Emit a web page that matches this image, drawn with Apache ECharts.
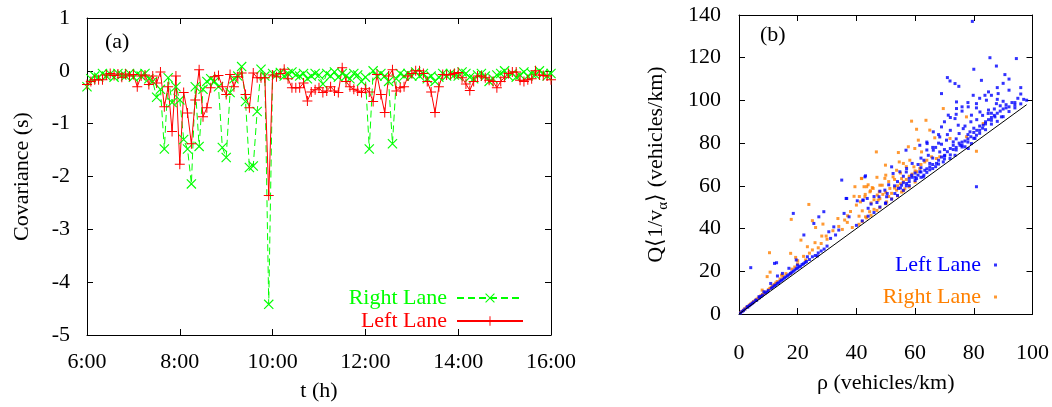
<!DOCTYPE html>
<html><head><meta charset="utf-8">
<script src="https://cdn.jsdelivr.net/npm/echarts@6/dist/echarts.min.js"></script>
<style>html,body{margin:0;padding:0;background:#fff}#c{width:1052px;height:407px}</style>
</head><body><div id="c"></div><script>
// ---- Panel (a): covariance time series, 5-minute samples from 6:00 ----
const startHour = 6;
const stepMinutes = 5;
const rightLaneCov = [
 -0.3,-0.15,-0.1,-0.12,-0.05,-0.1,-0.06,-0.12,-0.05,-0.08,-0.1,-0.05,-0.12,-0.06,-0.1,-0.05,-0.15,-0.2,
 -0.5,-0.35,-1.48,-0.13,-0.6,-0.3,-0.55,-1.3,-1.48,-2.14,-0.3,-1.43,-0.35,
 -0.2,-0.15,-0.2,-0.3,-1.45,-1.64,-0.41,-0.15,-0.1,0.08,-0.58,-1.83,-1.8,-0.77,0.03,-0.1,-4.42,
 -0.05,-0.08,-0.03,-0.1,-0.05,-0.02,-0.08,-0.1,-0.05,-0.15,-0.1,-0.05,-0.08,-0.25,-0.05,-0.1,-0.02,-0.12,-0.05,-0.1,-0.15,-0.05,-0.08,-0.2,-0.12,-1.48,0.0,-0.1,
 -0.05,-0.1,-0.2,-1.38,-0.15,-0.05,-0.1,-0.05,-0.1,-0.02,-0.1,-0.05,-0.15,-0.1,-0.2,-0.12,-0.05,-0.1,-0.05,-0.08,-0.1,-0.02,-0.05,-0.12,-0.15,-0.08,-0.05,-0.1,-0.2,-0.15,-0.08,-0.05,0.0,-0.1,-0.05,-0.12,-0.08,-0.02,-0.1,-0.05,-0.08,0.0,-0.05,-0.1,-0.05
];
const leftLaneCov = [
 -0.26,-0.2,-0.17,-0.17,-0.17,-0.08,-0.05,-0.09,-0.06,-0.12,-0.06,-0.1,-0.07,-0.3,-0.1,-0.08,-0.26,-0.1,-0.23,
 -0.02,-0.68,-0.3,-1.15,-0.1,-1.77,-0.41,-0.8,-1.38,-0.55,0.02,-0.87,
 -0.7,-0.32,-0.11,-0.09,-0.3,-0.45,-0.07,-0.3,-0.11,-0.04,-0.45,-0.7,-0.04,-0.13,-0.13,-0.13,-2.36,
 -0.08,-0.11,-0.05,0.03,-0.15,-0.32,-0.32,-0.32,-0.23,-0.57,-0.4,-0.36,
 -0.32,-0.41,-0.38,-0.3,-0.38,-0.41,0.06,-0.2,-0.3,-0.35,-0.38,-0.41,-0.34,-0.4,-0.58,-0.07,-0.45,-0.79,-0.1,0.02,-0.38,-0.32,-0.3,-0.1,-0.05,0.0,0.0,-0.05,-0.2,-0.4,
 -0.79,-0.3,-0.07,-0.08,-0.07,-0.05,-0.03,-0.13,-0.25,-0.37,-0.2,-0.1,-0.1,-0.13,-0.18,-0.2,-0.32,-0.2,-0.12,-0.05,-0.02,-0.02,-0.18,-0.2,-0.17,-0.15,0.0,-0.08,-0.09,-0.1,-0.17
];

// ---- Panel (b): scatter [rho, Q<1/v>] ----
const leftLanePts = [
 [0.5,0.4],[1,1.1],[1.5,1.6],[2,2.3],[2.8,3.4],[3,3.2],[3.5,3.9],[4,4.4],[4.5,5],[5,5.6],[5.7,6.5],[6,6.4],[6.8,8.1],[7,7.6],[7.5,8.2],[8,8.8],[8.5,10.4],[9,9.8],[9.5,10.3],[10,11],
 [10.8,14.3],[11,12],[11.5,12.6],[12,13.2],[12.5,13.5],[13,14.3],[13.1,17.8],[13.5,14.6],[14,15.3],[14.5,15.8],[14.8,19],[15,16.3],[15.5,16.9],[16,17.4],[16.5,17.9],[17,18.4],[17,21.4],[17.5,19],[18,19.5],[18.5,20],
 [19,20.6],[19.5,25.3],[19.5,21.2],[19.9,22.9],[20,21.5],[20.5,22.1],[21,22.4],[21.5,23.2],[22,23.5],[22.1,37],[22.5,24.1],[23,24.6],[23.3,26.8],[24,25.5],[25,26.8],[26,27.4],[26.7,27.2],[27,28.6],[28,29.5],[29,30.4],[30,31.8],
 [4,21.7],[12.1,23.7],[12.8,24],[18.5,47.1],[35,62.7],[43.1,64.7],[36.5,54.1],[27.2,45.5],[28.9,47.9],[25.5,42.4],[30.6,38.5],[32.3,40.8],[34,39.3],[35.8,47.1],[37.5,45.5],[31.2,35.4],[32.9,37],
 [40.3,53],[42.2,53.3],[43.7,54.1],[49.9,51.8],[50.5,56.4],[47.7,54.9],[36.7,54.1],[42.3,53.3],[49.7,58],[50.3,54.9],[53.1,56.4],[42.9,64.2],
 [79.5,137],[85.5,120],[94.5,119.6],[87.7,116.1],[80,114.6],[90.6,112.1],[82.6,109.4],[71,110.7],[71.9,109.1],[73.6,107.9],[74.9,106.6],[69,103.2],[92,104.8],[79.8,102.4],[83.8,102.4],[86,102.4],[88.3,103.2],
 [98,100.1],[94,97.8],[90,99.6],[87.7,98.5],[84.3,100.1],[80.9,98.5],[78.1,97],[74.1,96.2],[76,97],[71.3,93.1],[73.6,91.5],[74.7,88.4],[76.4,86.8],[78.7,85.3],[80.9,83.7],[83.2,88.4],[86,90.7],[87.2,92.3],[89.4,92.3],
 [84.9,93.9],[82.1,94.6],[79.2,93.1],[68.4,82.9],[70.7,81.4],[73,80.6],[75.3,79],[77,78.3],[78.1,77.5],[79.2,79.8],[80.4,82.2],[66.2,76.7],[64.5,74.3],[68.4,75.9],[70.1,74.3],[71.9,72.8],[73.6,74.3],[69.6,71.2],
 [67.3,70.5],[65,68.9],[63.3,67.3],[61.6,66.6],[62.8,64.2],[60.5,63.4],[58.8,65],[57.1,61.1],[55.4,60.3],[54.3,58.8],[57.1,68.1],[54.8,66.6],[52.5,65.8],[52,68.9],[56.9,76.7],[61.6,79],[64.1,79.8],[66.2,85.3],[69,87.6],
 [74.1,99.3],[80.9,96.5],[80.9,59.6],
 [40,41.5],[42,43.6],[44,45.8],[46,47.5],[48,50.1],[50,52],[52,53.8],[54,55.5],[56,57.9],[58,60.1],[60,62.5],[62,64],[64,66.3],[66,68.1],[68,70.2],[70,72.6],[72,74.5],[74,76.8],[76,78.2],[78,80.5],[80,82.3],[82,84.6],
 [84,86.3],[86,88.9],[88,90.2],[90,92.4],[92,94.8],[94,96.5],[96,98.4],
 [58,63.5],[60,66],[61,70],[63,72],[65,70.5],[66,73],[67,78],[69,79.5],[70,77],[71,84],[72,86],[73,77],[74,82],[75,84.5],[76,80.5],[77,88],[78,84],[79,90],[80,87],[81,91],[82,86],[83,93],[84,89],[85,95.5],[86,94],
 [87,96],[88,100.5],[89,97.5],[91,96.5],[93,99],[95,101],[97,100.5],[59,70.5],[62,68.5],[64,76.8],[68,80],[56,64.5],[57,66.5],[54,62],[53,60],[51,60.5],[48,57.5],[46,55],[45,51.5],[44,49.5],[47,52.2],
 [55,59],[56,61.5],[57,60],[58,62],[59,64],[60,64],[61,65],[62,66.5],[63,65],[64,68],[65,67.5],[66,70],[67,69],[68,72],[69,73.5],[70,74],[71,76],[72,77.5],[73,79],[74,78],[75,80],[76,79],[77,81],[78,82],
 [79,83],[80,85],[81,86],[82,88],[83,87],[84,90],[85,91],[86,92],[87,93],[88,94],[89,95],[90,96],[91,98],[92,97],[94,99],[96,103],
 [62,73],[64,80.5],[66,78],[68,84],[70,90],[72,92],[74,93.5],[76,95],[78,99],[82,101],[85,104],[88,106],[90,108],[92,110],[96,106]
];
const rightLanePts = [
 [0.5,0.6],[1,1.2],[1.5,1.8],[2,2.4],[2.5,3.1],[3,3.5],[3.5,4.2],[4,4.7],[4.5,5.2],[5,5.8],[5.5,6.3],[6,6.9],[6.5,7.4],[7,8],[7.5,8.7],[7.9,11.2],[8,9.1],[8.5,9.6],[9,10.2],[9.6,17.5],[10,11.4],[10.4,28.7],
 [10.5,12],[10.6,19.6],[11,12.6],[11.5,13.1],[12,13.8],[12.5,14.5],[13,15.2],[14,16.4],[14.5,18.2],[15,17.6],[16,18.9],[17.6,19],[17.6,28.4],[17.8,44.3],[18,21],[19.3,26.5],[20,23.5],[21.1,34.6],[22.7,25.3],[23.3,31.5],
 [23.8,51.3],[25,43.7],[25.9,33.4],[26.1,40.5],[28.2,36.5],[28.6,42.1],[29.7,36.5],[33.7,44.7],[35.2,39.6],[36.9,42.9],[38.6,40.5],[39.2,55.1],[41.7,63.5],[42.6,59.6],[45.4,59.2],[44.8,57.7],[47.1,55.7],[48.8,60.3],
 [41.4,52.5],[42,48.3],[40.9,45.8],[43.1,45.5],[44.5,47.9],[46,49],[46.8,75.9],[49.9,69.7],[40.9,42],[42,43.3],[43.5,45],[45,46.2],[47,48.5],[48,49.8],[50,51.6],[52,53.9],[54,55.3],[56,57.6],[58,59.5],[60,61.8],
 [69.6,96.2],[58.8,90.3],[63.7,90.7],[60.5,86.5],[65,86.1],[66.7,82.5],[61.1,81.4],[57.7,78.3],[59.9,77.5],[54.3,75.6],[54.6,71.2],[56,70.5],[58.2,72],[59.6,68.9],[61.6,68.1],[63.3,71.2],[65.6,73.6],[67.3,72.8],
 [53.7,67.3],[52.5,64.2],[49.7,63.5],[48,60.3],[45.7,58.8],[43.5,59.6],[41.8,63.4],[39.5,59.6],[42.9,54.9],[44.6,57.2],[47.8,57.2],[51.4,58.8],[53.7,58],[55.4,57.1],[56.5,58.6],[50.3,52.5],[47.4,53.3],
 [83.2,89.2],[77.5,92.3],[80.9,76.2],[71.9,82.2],[77.5,83],[68.4,73.6],[62.2,75.9],[55.4,63.4],[60.5,66.6],
 [45,52],[46,53.5],[48,54],[49,56],[50,57],[51,55],[52,56.5],[53,59],[54,60],[55,61],[56,62],[57,63],[58,64.5],[59,65.5],[60,67],[62,70],[64,72],[57,69],[55,66],[53,63],
 [51,62],[50,65],[47,64],[44,60.5],[43,56],[41,55],[40,51],[38,48],[37,46],[36,44],[34,41],[32,39],[30,35],[28,33],[27,31],[25,30],[24,28.5],[22,27],[20,25],[19,22]
];
const diagonalLine = [[0,0],[98,98]];

const F = 'Liberation Serif';
const GREEN = '#00ff00', RED = '#ff0000', BLUE = '#0000ff', ORANGE = '#ff8000';
const CROSS = 'path://M0,0.8L0.8,0L10,9.2L9.2,10ZM9.2,0L10,0.8L0.8,10L0,9.2Z';
const PLUS = 'path://M4.5,0H5.5V10H4.5ZM0,4.5H10V5.5H0Z';

const toPairs = vals => vals.map((v, i) => [startHour + i * stepMinutes / 60, v]);

const lbl = (extra) => Object.assign({fontFamily: F, fontSize: 22, color: '#000'}, extra || {});
const axLine = {show: true, onZero: false, lineStyle: {color: '#000', width: 1}};
const tickIn = {show: true, inside: true, length: 6, lineStyle: {color: '#000', width: 1}};
const noSplit = {show: false};
const mirror = (base) => Object.assign({}, base, {axisLabel: {show: false}, name: '', axisTick: tickIn, axisLine: axLine, splitLine: noSplit});

const xa0 = {gridIndex: 0, type: 'value', min: 6, max: 16, interval: 2,
  axisLabel: lbl({margin: 16, formatter: v => v + ':00'}), axisTick: tickIn, axisLine: axLine, splitLine: noSplit,
  name: 't (h)', nameLocation: 'middle', nameGap: 45, nameTextStyle: lbl()};
const ya0 = {gridIndex: 0, type: 'value', min: -5, max: 1, interval: 1,
  axisLabel: lbl({margin: 17}), axisTick: tickIn, axisLine: axLine, splitLine: noSplit,
  name: 'Covariance (s)', nameLocation: 'middle', nameGap: 54, nameTextStyle: lbl()};
const xa1 = {gridIndex: 1, type: 'value', min: 0, max: 100, interval: 20,
  axisLabel: lbl({margin: 28}), axisTick: tickIn, axisLine: axLine, splitLine: noSplit,
  name: 'ρ (vehicles/km)', nameLocation: 'middle', nameGap: 58, nameTextStyle: lbl()};
const ya1 = {gridIndex: 1, type: 'value', min: 0, max: 140, interval: 20,
  axisLabel: lbl({margin: 18}), axisTick: tickIn, axisLine: axLine, splitLine: noSplit,
  name: '{t|Q⟨1/v}{s|α}{t|⟩ (vehicles/km)}', nameLocation: 'middle', nameGap: 68,
  nameTextStyle: lbl({rich: {t: {fontFamily: F, fontSize: 22, color: '#000', lineHeight: 30, verticalAlign: 'middle'},
                              s: {fontFamily: F, fontSize: 15, color: '#000', lineHeight: 30, verticalAlign: 'bottom'}}})};

const chart = echarts.init(document.getElementById('c'), null, {renderer: 'canvas'});
chart.setOption({
  animation: false,
  backgroundColor: '#fff',
  grid: [
    {left: 87, top: 18, width: 464, height: 319},
    {left: 739, top: 15, width: 294, height: 299}
  ],
  xAxis: [xa0, Object.assign(mirror(xa0), {position: 'top'}), xa1, Object.assign(mirror(xa1), {position: 'top'})],
  yAxis: [ya0, Object.assign(mirror(ya0), {position: 'right'}), ya1, Object.assign(mirror(ya1), {position: 'right'})],
  legend: [
    {orient: 'vertical', right: 528, top: 287, padding: 0, align: 'right', itemWidth: 66, itemHeight: 12, itemGap: 1,
     selectedMode: false, textStyle: {fontFamily: F, fontSize: 22, padding: [0, 5, 0, 0]},
     data: [{name: 'Right Lane', textStyle: {color: GREEN}}, {name: 'Left Lane', textStyle: {color: RED}}]},
    {orient: 'vertical', right: 55, top: 253, padding: 0, align: 'right', itemWidth: 3, itemHeight: 3, itemGap: 8,
     selectedMode: false, textStyle: {fontFamily: F, fontSize: 22, lineHeight: 24, padding: [0, 8, 0, 0]},
     formatter: n => n.trim(),
     data: [{name: 'Left Lane ', textStyle: {color: BLUE}}, {name: 'Right Lane ', textStyle: {color: ORANGE}}]}
  ],
  graphic: [
    {type: 'text', left: 105, top: 31, style: {text: '(a)', font: '22px "Liberation Serif"', fill: '#000'}},
    {type: 'text', left: 760, top: 24, style: {text: '(b)', font: '22px "Liberation Serif"', fill: '#000'}}
  ],
  series: [
    {name: 'Right Lane', type: 'line', xAxisIndex: 0, yAxisIndex: 0, data: toPairs(rightLaneCov),
     symbol: CROSS, symbolSize: 10, showSymbol: true, showAllSymbol: true,
     lineStyle: {color: GREEN, width: 1, type: [7, 4]}, itemStyle: {color: GREEN}},
    {name: 'Left Lane', type: 'line', xAxisIndex: 0, yAxisIndex: 0, data: toPairs(leftLaneCov),
     symbol: PLUS, symbolSize: 10, showSymbol: true, showAllSymbol: true,
     lineStyle: {color: RED, width: 1}, itemStyle: {color: RED}},
    {name: 'Right Lane ', type: 'scatter', xAxisIndex: 2, yAxisIndex: 2, data: rightLanePts,
     symbol: 'rect', symbolSize: 3, itemStyle: {color: ORANGE}},
    {name: 'Left Lane ', type: 'scatter', xAxisIndex: 2, yAxisIndex: 2, data: leftLanePts,
     symbol: 'rect', symbolSize: 3, itemStyle: {color: BLUE}},
    {name: 'diag', type: 'line', xAxisIndex: 2, yAxisIndex: 2, data: diagonalLine,
     symbol: 'none', lineStyle: {color: '#000', width: 1}, silent: true}
  ]
});
</script></body></html>
